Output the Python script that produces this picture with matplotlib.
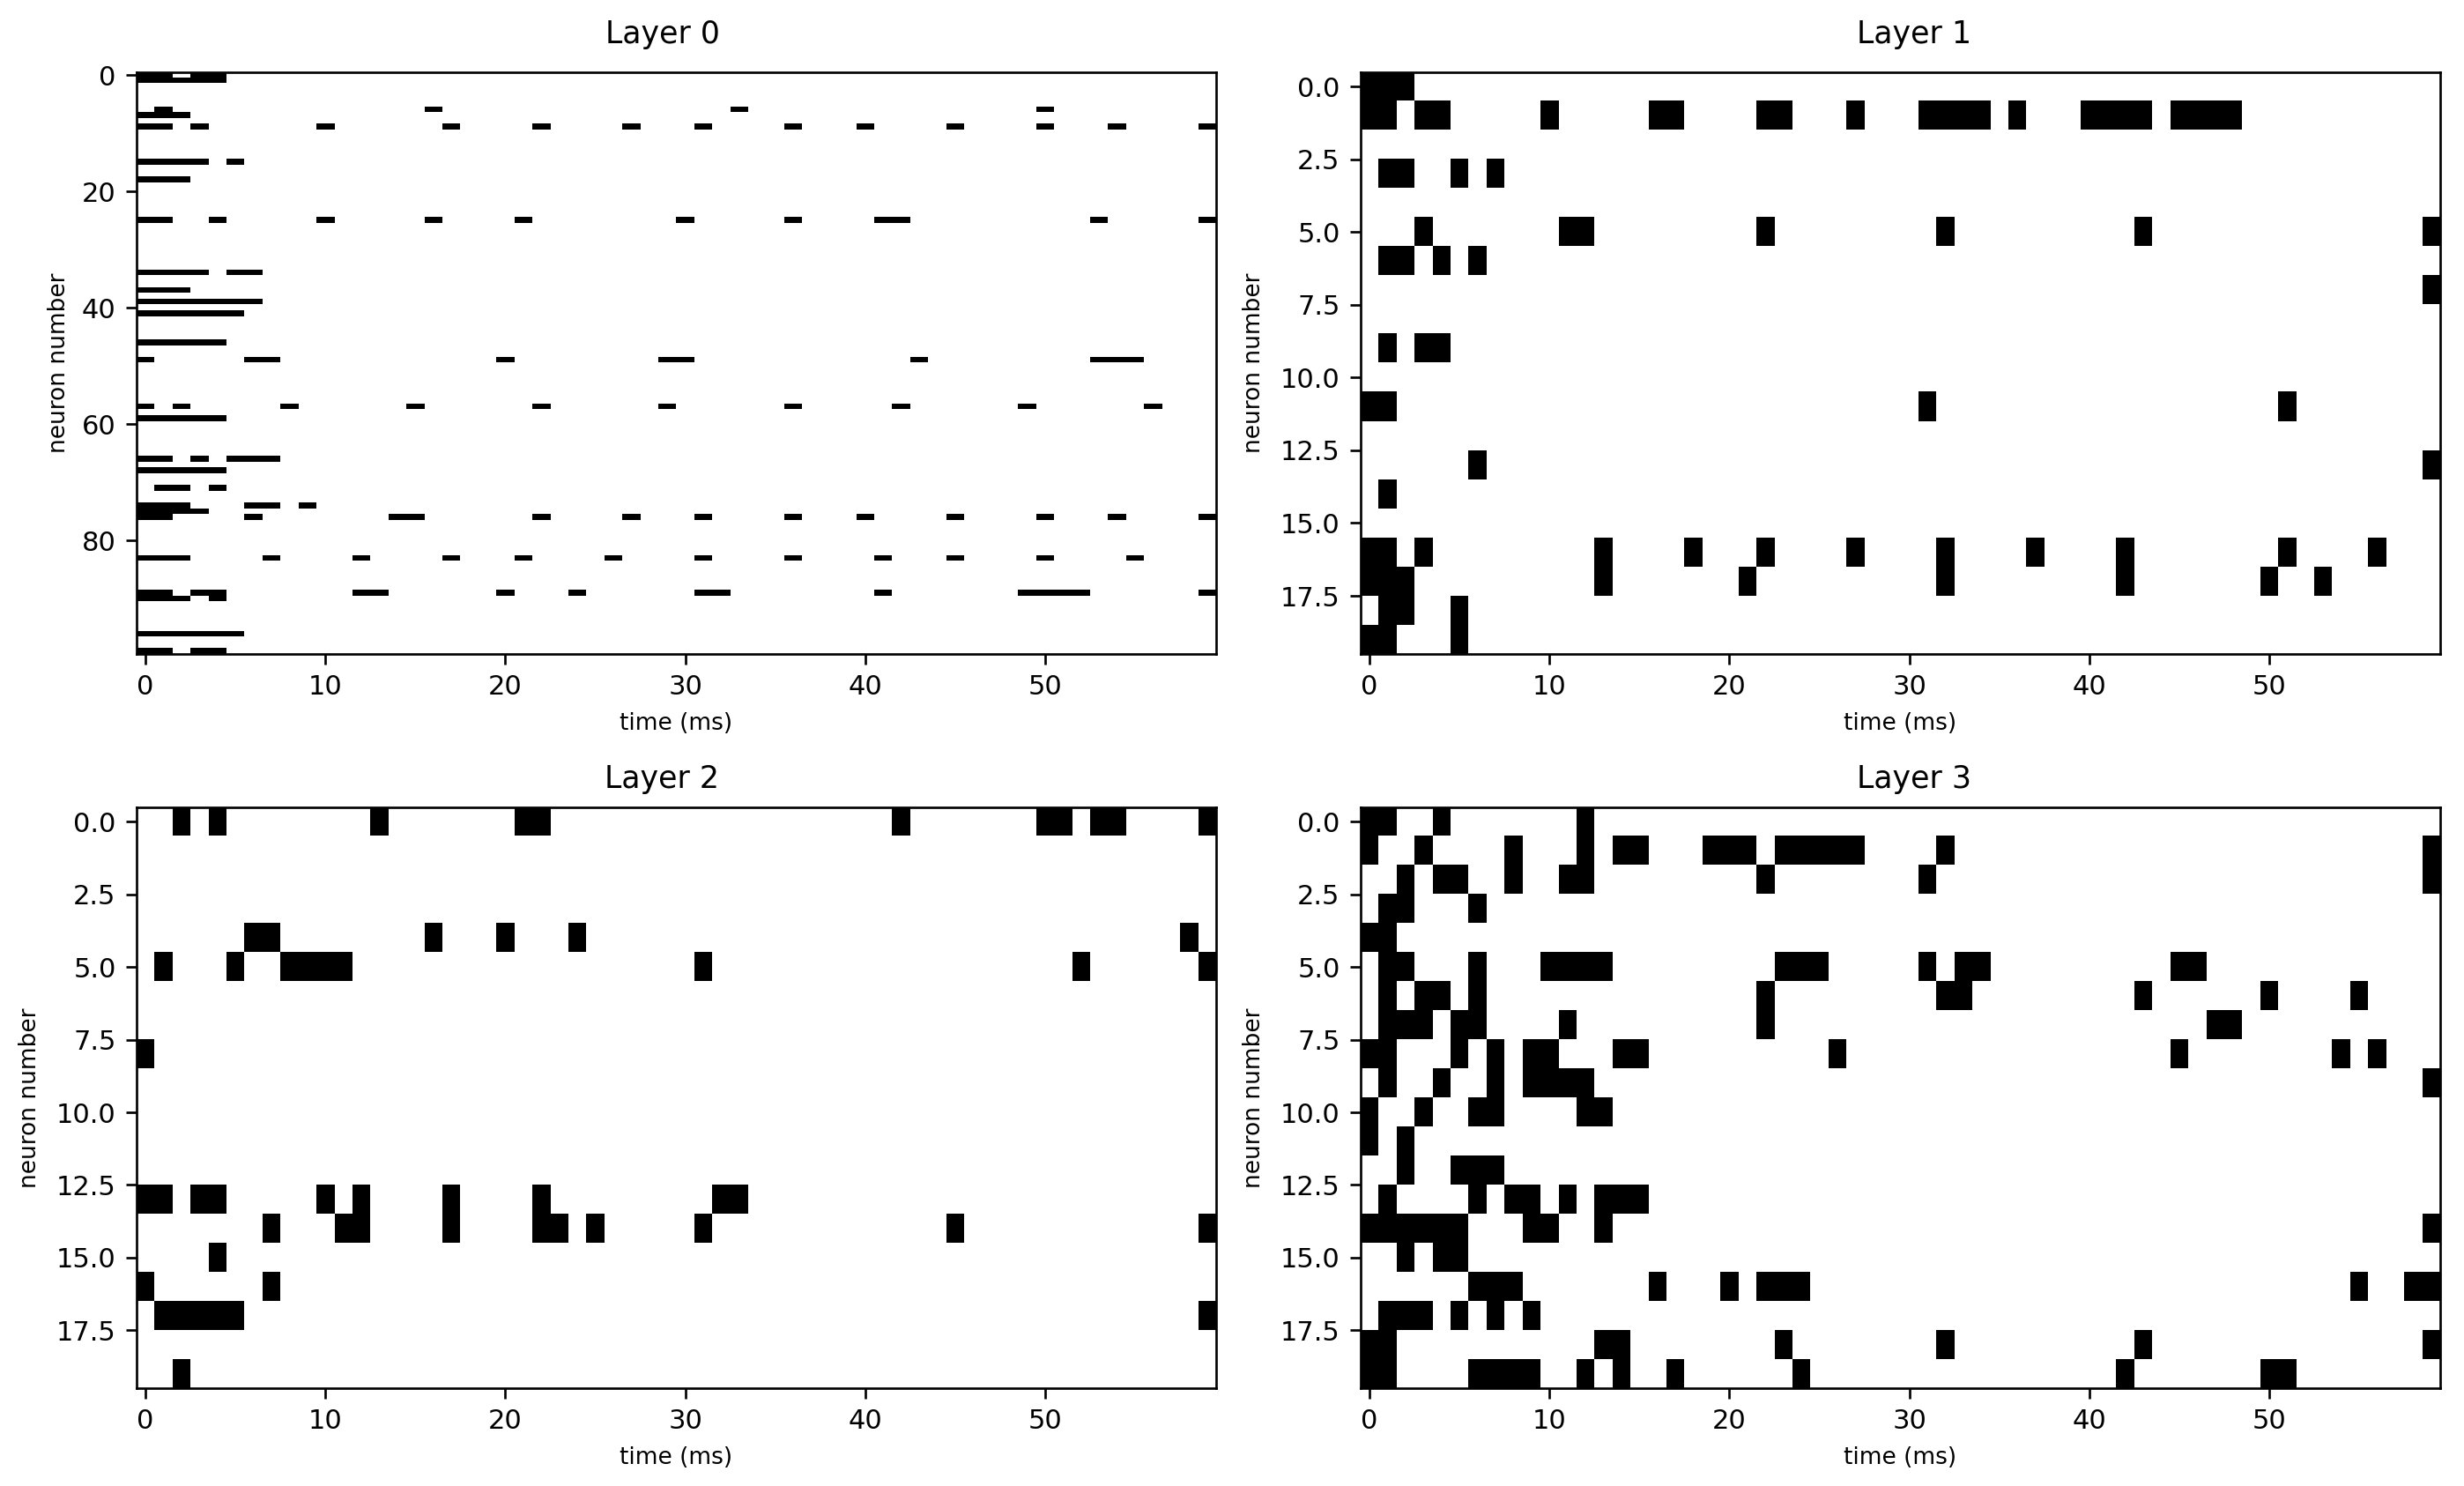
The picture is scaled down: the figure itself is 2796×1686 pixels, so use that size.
"""Spike raster plots per layer."""
import matplotlib

matplotlib.use("Agg")
import matplotlib.pyplot as plt
import numpy as np

N_STEPS = 60
LAYER_SIZES = [100, 20, 20, 20]
LAYER_TITLES = ["Layer 0", "Layer 1", "Layer 2", "Layer 3"]

# neuron index -> time steps (ms) where it spiked
LAYER0_SPIKES = {
    0: [0, 1, 3, 4],
    1: [0, 1, 2, 3, 4],
    6: [1, 16, 33, 50],
    7: [0, 1, 2],
    9: [0, 1, 3, 10, 17, 22, 27, 31, 36, 40, 45, 50, 54, 59],
    15: [0, 1, 2, 3, 5],
    18: [0, 1, 2],
    25: [0, 1, 4, 10, 16, 21, 30, 36, 41, 42, 53, 59],
    34: [0, 1, 2, 3, 5, 6],
    37: [0, 1, 2],
    39: [0, 1, 2, 3, 4, 5, 6],
    41: [0, 1, 2, 3, 4, 5],
    46: [0, 1, 2, 3, 4],
    49: [0, 6, 7, 20, 29, 30, 43, 53, 54, 55],
    57: [0, 2, 8, 15, 22, 29, 36, 42, 49, 56],
    59: [0, 1, 2, 3, 4],
    66: [0, 1, 3, 5, 6, 7],
    68: [0, 1, 2, 3, 4],
    71: [1, 2, 4],
    74: [0, 1, 2, 6, 7, 9],
    75: [0, 1, 2, 3],
    76: [0, 1, 6, 14, 15, 22, 27, 31, 36, 40, 45, 50, 54, 59],
    83: [0, 1, 2, 7, 12, 17, 21, 26, 31, 36, 41, 45, 50, 55],
    89: [0, 1, 3, 4, 12, 13, 20, 24, 31, 32, 41, 49, 50, 51, 52, 59],
    90: [0, 1, 2, 4],
    96: [0, 1, 2, 3, 4, 5],
    99: [0, 1, 3, 4],
}

LAYER1_SPIKES = {
    0: [0, 1, 2],
    1: [0, 1, 3, 4, 10, 16, 17, 22, 23, 27, 31, 32, 33, 34, 36,
        40, 41, 42, 43, 45, 46, 47, 48],
    3: [1, 2, 5, 7],
    5: [3, 11, 12, 22, 32, 43, 59],
    6: [1, 2, 4, 6],
    7: [59],
    9: [1, 3, 4],
    11: [0, 1, 31, 51],
    13: [6, 59],
    14: [1],
    16: [0, 1, 3, 13, 18, 22, 27, 32, 37, 42, 51, 56],
    17: [0, 1, 2, 13, 21, 32, 42, 50, 53],
    18: [1, 2, 5],
    19: [0, 1, 5],
}

LAYER2_SPIKES = {
    0: [2, 4, 13, 21, 22, 42, 50, 51, 53, 54, 59],
    4: [6, 7, 16, 20, 24, 58],
    5: [1, 5, 8, 9, 10, 11, 31, 52, 59],
    8: [0],
    13: [0, 1, 3, 4, 10, 12, 17, 22, 32, 33],
    14: [7, 11, 12, 17, 22, 23, 25, 31, 45, 59],
    15: [4],
    16: [0, 7],
    17: [1, 2, 3, 4, 5, 59],
    19: [2],
}

LAYER3_SPIKES = {
    0: [0, 1, 4, 12],
    1: [0, 3, 8, 12, 14, 15, 19, 20, 21, 23, 24, 25, 26, 27, 32, 59],
    2: [2, 4, 5, 8, 11, 12, 22, 31, 59],
    3: [1, 2, 6],
    4: [0, 1],
    5: [1, 2, 6, 10, 11, 12, 13, 23, 24, 25, 31, 33, 34, 45, 46],
    6: [1, 3, 4, 6, 22, 32, 33, 43, 50, 55],
    7: [1, 2, 3, 5, 6, 11, 22, 47, 48],
    8: [0, 1, 5, 7, 9, 10, 14, 15, 26, 45, 54, 56],
    9: [1, 4, 7, 9, 10, 11, 12, 59],
    10: [0, 3, 6, 7, 12, 13],
    11: [0, 2],
    12: [2, 5, 6, 7],
    13: [1, 6, 8, 9, 11, 13, 14, 15],
    14: [0, 1, 2, 3, 4, 5, 9, 10, 13, 59],
    15: [2, 4, 5],
    16: [6, 7, 8, 16, 20, 22, 23, 24, 55, 58, 59],
    17: [1, 2, 3, 5, 7, 9],
    18: [0, 1, 13, 14, 23, 32, 43, 59],
    19: [0, 1, 6, 7, 8, 9, 12, 14, 17, 24, 42, 50, 51],
}


def to_raster(spikes, n_neurons):
    raster = np.zeros((n_neurons, N_STEPS), dtype=int)
    for neuron, times in spikes.items():
        raster[neuron, times] = 1
    return raster


def plot_layers():
    layers = [LAYER0_SPIKES, LAYER1_SPIKES, LAYER2_SPIKES, LAYER3_SPIKES]
    fig, axes = plt.subplots(2, 2, figsize=(13.98, 8.43), dpi=200)

    positions = [
        [0.0554, 0.5599, 0.4381, 0.3915],
        [0.5522, 0.5599, 0.4381, 0.3915],
        [0.0554, 0.0658, 0.4381, 0.3909],
        [0.5522, 0.0658, 0.4381, 0.3909],
    ]
    title_pads = [11.8, 11.8, 7.8, 7.8]
    # titles sit slightly off the axes centre in the reference
    title_x = [0.487, 0.513, 0.487, 0.513]
    ylabel_pads = [4.5, 6.1, 6.1, 6.1]

    for ax, spikes, size, title, pos, tpad, tx, ypad in zip(
        axes.flat, layers, LAYER_SIZES, LAYER_TITLES, positions,
        title_pads, title_x, ylabel_pads,
    ):
        raster = to_raster(spikes, size)
        ax.imshow(raster, cmap="binary", aspect="auto", interpolation="nearest")
        ax.set_position(pos)
        ax.set_title(title, fontsize=12.5, pad=tpad, x=tx)
        ax.set_xlabel("time (ms)", fontsize=9.5, labelpad=5)
        ax.set_ylabel("neuron number", fontsize=9.5, labelpad=ypad)
        ax.tick_params(labelsize=11, length=4.2, width=0.96, pad=4.2)
        for spine in ax.spines.values():
            spine.set_linewidth(0.96)

    fig.savefig("out.png", dpi=200)
    plt.close(fig)


if __name__ == "__main__":
    plot_layers()
